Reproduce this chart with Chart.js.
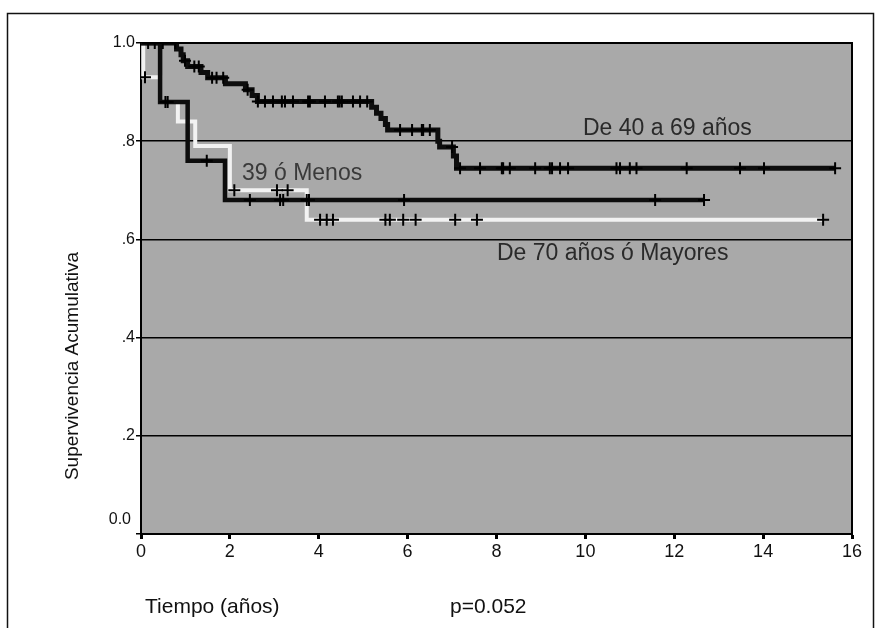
<!DOCTYPE html>
<html><head><meta charset="utf-8">
<script src="https://cdn.jsdelivr.net/npm/chart.js@4"></script>
<style>html,body{margin:0;padding:0;background:#fff;overflow:hidden}#wrap{position:relative;width:881px;height:628px}</style>
</head><body><div id="wrap"><canvas id="c" width="881" height="628"></canvas></div>
<script>
// ---- data ----
const xTickStep = 2;
const xMin = 0, xMax = 16;
const yTickValues = [0, 0.2, 0.4, 0.6, 0.8, 1.0];
const yTickLabels = ['0.0', '.2', '.4', '.6', '.8', '1.0'];

// Grupo "De 40 a 69 años"
const tiempo4069 = [0, 0.8, 0.9, 0.95, 1.05, 1.35, 1.5, 1.9, 2.35, 2.5, 2.62, 5.19, 5.3, 5.4, 5.5, 5.55, 6.68, 6.72, 7.03, 7.1, 15.62];
const superv4069 = [1.0, 0.988, 0.976, 0.964, 0.952, 0.94, 0.929, 0.917, 0.905, 0.893, 0.881, 0.869, 0.857, 0.846, 0.834, 0.823, 0.80, 0.788, 0.77, 0.745, 0.745];
const censura4069 = [0.16, 0.31, 0.49, 0.77, 0.99, 1.2, 1.3, 1.6, 1.7, 1.85, 2.4, 2.63, 2.79, 2.97, 3.17, 3.24, 3.42, 3.76, 3.8, 4.14, 4.43, 4.47, 4.52, 4.77, 4.93, 5.09, 5.83, 6.1, 6.32, 6.35, 6.5, 7.0, 7.18, 7.63, 8.12, 8.15, 8.3, 8.87, 9.2, 9.25, 9.43, 9.61, 10.7, 10.78, 11.0, 11.15, 12.28, 13.48, 14.02, 15.62];

// Grupo "39 ó Menos"
const tiempo39 = [0, 0.43, 1.05, 1.89, 12.67];
const superv39 = [1.0, 0.88, 0.76, 0.68, 0.68];
const censura39 = [0.55, 0.6, 1.48, 2.45, 3.13, 3.2, 3.73, 3.78, 5.92, 11.57, 12.67];

// Grupo "De 70 años ó Mayores"
const tiempo70 = [0, 0.05, 0.43, 0.83, 1.22, 2.0, 3.73, 15.35];
const superv70 = [1.0, 0.93, 0.88, 0.84, 0.79, 0.70, 0.64, 0.64];
const censura70 = [0.09, 2.1, 3.06, 3.3, 4.03, 4.18, 4.32, 5.5, 5.6, 5.9, 6.18, 7.07, 7.56, 15.35];

const labelGrupo4069 = 'De 40 a 69 años';
const labelGrupo39 = '39 ó Menos';
const labelGrupo70 = 'De 70 años ó Mayores';
const tituloY = 'Supervivencia Acumulativa';
const tituloX = 'Tiempo (años)';
const pValor = 'p=0.052';

// ---- helpers ----
function stepPoints(t, s) { return t.map((x, i) => ({x: x, y: s[i]})); }
function censorPoints(c, t, s) {
  return c.map(x => { let y = s[0]; for (let i = 0; i < t.length; i++) if (t[i] <= x) y = s[i]; return {x: x, y: y}; });
}

const FONT = 'Arial, "Liberation Sans", sans-serif';

const decor = {
  id: 'decor',
  beforeDraw(chart) {
    const {ctx, chartArea: a} = chart;
    ctx.save();
    ctx.fillStyle = '#a9a9a9';
    ctx.fillRect(a.left, a.top, a.right - a.left, a.bottom - a.top);
    ctx.strokeStyle = '#111';
    ctx.lineWidth = 1.5;
    ctx.beginPath();
    ctx.moveTo(7.5, 640); ctx.lineTo(7.5, 13.5); ctx.lineTo(873.5, 13.5); ctx.lineTo(873.5, 640);
    ctx.stroke();
    ctx.restore();
  },
  beforeDatasetsDraw(chart) {
    const {ctx, chartArea: a} = chart;
    ctx.save();
    ctx.strokeStyle = '#000';
    ctx.lineWidth = 2;
    ctx.beginPath();
    ctx.moveTo(a.left, a.top); ctx.lineTo(a.right, a.top); ctx.lineTo(a.right, a.bottom);
    ctx.stroke();
    ctx.restore();
  },
  afterDraw(chart) {
    const {ctx} = chart;
    const ys = chart.scales.y;
    ctx.save();
    // lowest y tick label sits a little above the axis, as in the original
    ctx.fillStyle = '#111';
    ctx.font = '16px ' + FONT;
    ctx.textAlign = 'right';
    ctx.textBaseline = 'middle';
    ctx.fillText(yTickLabels[0], 131, ys.getPixelForValue(yTickValues[0]) - 14);

    ctx.fillStyle = '#2a2a2a';
    ctx.textBaseline = 'alphabetic';
    ctx.textAlign = 'left';
    ctx.font = '23px ' + FONT;
    ctx.fillText(labelGrupo4069, 583, 135);
    ctx.fillStyle = '#3a3a3a';
    ctx.fillText(labelGrupo39, 242, 180);
    ctx.fillStyle = '#2a2a2a';
    ctx.fillText(labelGrupo70, 497, 260);
    ctx.fillStyle = '#111';
    ctx.font = '21px ' + FONT;
    ctx.fillText(tituloX, 145, 613);
    ctx.fillText(pValor, 450, 613);
    ctx.translate(78, 366);
    ctx.rotate(-Math.PI / 2);
    ctx.textAlign = 'center';
    ctx.font = '19px ' + FONT;
    ctx.fillText(tituloY, 0, 0);
    ctx.restore();
  }
};

const censorStyle = {showLine: false, pointStyle: 'cross', pointRadius: 6, pointBorderWidth: 2, pointBorderColor: '#000', pointBackgroundColor: '#000', pointHoverRadius: 6};

new Chart(document.getElementById('c'), {
  type: 'line',
  data: {
    datasets: [
      Object.assign({label: 'c4069', data: censorPoints(censura4069, tiempo4069, superv4069), order: 0}, censorStyle),
      Object.assign({label: 'c39', data: censorPoints(censura39, tiempo39, superv39), order: 0}, censorStyle),
      Object.assign({label: 'c70', data: censorPoints(censura70, tiempo70, superv70), order: 0}, censorStyle),
      {label: labelGrupo4069, data: stepPoints(tiempo4069, superv4069), stepped: 'before', borderColor: '#0d0d0d', borderWidth: 5, pointRadius: 0, fill: false, order: 1},
      {label: labelGrupo39, data: stepPoints(tiempo39, superv39), stepped: 'before', borderColor: '#0d0d0d', borderWidth: 4.5, pointRadius: 0, fill: false, order: 2},
      {label: labelGrupo70, data: stepPoints(tiempo70, superv70), stepped: 'before', borderColor: '#f2f2f2', borderWidth: 4, pointRadius: 0, fill: false, order: 3}
    ]
  },
  options: {
    responsive: false, animation: false, devicePixelRatio: 1,
    layout: {padding: {left: 0, top: 43, right: 29, bottom: 0}},
    plugins: {legend: {display: false}, tooltip: {enabled: false}},
    scales: {
      x: {
        type: 'linear', min: xMin, max: xMax,
        ticks: {stepSize: xTickStep, color: '#111', font: {family: FONT, size: 18}, padding: 2, maxRotation: 0},
        grid: {drawOnChartArea: false, drawTicks: true, tickLength: 5, tickWidth: 3, tickColor: '#000'},
        border: {color: '#000', width: 2},
        afterFit: s => { s.height = 94; }
      },
      y: {
        min: 0, max: 1,
        afterBuildTicks: s => { s.ticks = yTickValues.map(v => ({value: v})); },
        ticks: {callback: (v, i) => (i === 0 ? '' : yTickLabels[i]), color: '#111', font: {family: FONT, size: 16}, padding: 1},
        grid: {color: '#000', lineWidth: 1.5, tickLength: 5, tickColor: '#000', tickWidth: 1.5},
        border: {color: '#000', width: 2},
        afterFit: s => { s.width = 141; }
      }
    }
  },
  plugins: [decor]
});
</script>
</body></html>
